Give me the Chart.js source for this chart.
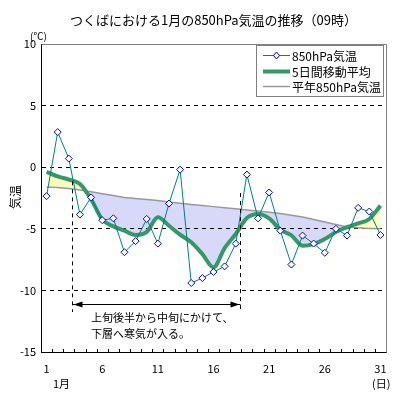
<!DOCTYPE html>
<html><head><meta charset="utf-8">
<script src="https://cdn.jsdelivr.net/npm/chart.js@4.4.0/dist/chart.umd.min.js"></script>
<style>html,body{margin:0;padding:0;background:#fff;}canvas{background:#fff;display:block}</style>
</head><body>
<canvas id="c" width="400" height="400"></canvas>
<script>
const days = ['1','2','3','4','5','6','7','8','9','10','11','12','13','14','15','16','17','18','19','20','21','22','23','24','25','26','27','28','29','30','31'];
const temp850 = [-2.35, 2.85, 0.7, -3.85, -2.45, -4.3, -4.15, -6.9, -6.0, -4.2, -6.2, -2.95, -0.2, -9.4, -9.0, -8.5, -8.05, -6.2, -0.6, -4.15, -2.05, -5.15, -7.9, -5.55, -6.2, -6.95, -5.0, -5.55, -3.3, -3.6, -5.5];
const movingAvg5 = [-0.37, -0.75, -1.0, -1.37, -2.6, -4.25, -4.8, -5.15, -5.5, -5.25, -4.07, -4.75, -5.48, -6.1, -7.05, -8.13, -6.56, -5.42, -4.13, -3.8, -4.15, -5.07, -5.53, -6.37, -6.24, -5.83, -5.26, -4.86, -4.56, -4.2, -3.12];
const normal850 = [-1.6, -1.65, -1.72, -1.85, -2.0, -2.15, -2.3, -2.45, -2.55, -2.62, -2.7, -2.82, -2.92, -3.02, -3.1, -3.2, -3.3, -3.38, -3.47, -3.55, -3.65, -3.75, -3.9, -4.05, -4.25, -4.45, -4.65, -4.85, -4.92, -4.97, -5.0];
const xTickLabels = ['1','6','11','16','21','26','31'];
const seriesNames = ['850hPa気温','5日間移動平均','平年850hPa気温'];
const titleText = 'つくばにおける1月の850hPa気温の推移（09時）';
const noteLines = ['上旬後半から中旬にかけて、','下層へ寒気が入る。'];
const noteDays = [3.3, 18.4];

const FONT = '"Noto Sans CJK JP", "Noto Sans", sans-serif';
Chart.defaults.font.family = FONT;
Chart.defaults.color = '#000';

const extras = {
  id: 'extras',
  afterDraw(chart) {
    const ctx = chart.ctx, x = chart.scales.x, y = chart.scales.y, a = chart.chartArea;
    ctx.save();
    ctx.strokeStyle = '#808080'; ctx.lineWidth = 1;
    ctx.beginPath();
    ctx.moveTo(Math.round(a.left) + 0.5, Math.round(a.top) + 0.5);
    ctx.lineTo(Math.round(a.right) + 0.5, Math.round(a.top) + 0.5);
    ctx.lineTo(Math.round(a.right) + 0.5, Math.round(a.bottom) + 0.5);
    ctx.stroke();
    ctx.strokeStyle = '#000';
    ctx.beginPath();
    for (let i = 1; i < days.length; i++) {
      const px = Math.round(x.getPixelForValue(i - 0.5)) + 0.5;
      ctx.moveTo(px, a.bottom); ctx.lineTo(px, a.bottom - 3);
    }
    ctx.stroke();
    ctx.setLineDash([4, 4]);
    ctx.beginPath();
    const tops = [-1.15, -2.1];
    noteDays.forEach((d, k) => {
      const px = Math.round(x.getPixelForValue(d - 1)) + 0.5;
      ctx.moveTo(px, y.getPixelForValue(tops[k]));
      ctx.lineTo(px, y.getPixelForValue(-11.75));
    });
    ctx.stroke();
    ctx.setLineDash([]);
    const ax1 = Math.round(x.getPixelForValue(noteDays[0] - 1)) + 0.5;
    const ax2 = Math.round(x.getPixelForValue(noteDays[1] - 1)) + 0.5;
    const ay = Math.round(y.getPixelForValue(-11.1)) + 0.5;
    ctx.beginPath(); ctx.moveTo(ax1, ay); ctx.lineTo(ax2, ay); ctx.stroke();
    ctx.fillStyle = '#000';
    ctx.beginPath(); ctx.moveTo(ax1 + 1, ay); ctx.lineTo(ax1 + 10, ay - 3); ctx.lineTo(ax1 + 10, ay + 3); ctx.closePath(); ctx.fill();
    ctx.beginPath(); ctx.moveTo(ax2 - 1, ay); ctx.lineTo(ax2 - 10, ay - 3); ctx.lineTo(ax2 - 10, ay + 3); ctx.closePath(); ctx.fill();
    ctx.font = '11px ' + FONT; ctx.textAlign = 'left'; ctx.textBaseline = 'middle';
    const tx = x.getPixelForValue(4.0);
    ctx.fillText(noteLines[0], tx, y.getPixelForValue(-12.25));
    ctx.fillText(noteLines[1], tx, y.getPixelForValue(-13.55));
    ctx.font = '13px ' + FONT; ctx.textAlign = 'center';
    ctx.fillText(titleText, (a.left + a.right) / 2, 20);
    ctx.font = '10px ' + FONT; ctx.textAlign = 'left';
    ctx.fillText('(℃)', 30, 36);
    ctx.font = '11px ' + FONT;
    ctx.fillText('1月', 53, 384);
    ctx.fillText('(日)', 372, 384);
    ctx.save(); ctx.translate(15, 197); ctx.rotate(-Math.PI / 2);
    ctx.textAlign = 'center'; ctx.font = '12px ' + FONT; ctx.fillText('気温', 0, 0); ctx.restore();
    const lx = 256.5, ly = 45.5, lw = 127, lh = 51;
    ctx.fillStyle = '#fff'; ctx.fillRect(lx, ly, lw, lh);
    ctx.strokeStyle = '#808080'; ctx.lineWidth = 1; ctx.strokeRect(lx, ly, lw, lh);
    const rows = [55, 71, 86];
    const ds = chart.data.datasets;
    ctx.font = '12px ' + FONT; ctx.textAlign = 'left'; ctx.textBaseline = 'middle';
    rows.forEach((ry, i) => {
      ctx.strokeStyle = ds[i].borderColor; ctx.lineWidth = ds[i].borderWidth;
      ctx.beginPath(); ctx.moveTo(263, ry + 0.5); ctx.lineTo(290, ry + 0.5); ctx.stroke();
      if (i === 0) {
        ctx.fillStyle = '#fff'; ctx.strokeStyle = '#0000ff'; ctx.lineWidth = 1;
        ctx.beginPath(); ctx.moveTo(276.5, ry - 3); ctx.lineTo(279.5, ry + 0.5); ctx.lineTo(276.5, ry + 4); ctx.lineTo(273.5, ry + 0.5); ctx.closePath(); ctx.fill(); ctx.stroke();
      }
      ctx.fillStyle = '#000';
      ctx.fillText(seriesNames[i], 292, ry + 1);
    });
    ctx.restore();
  }
};

new Chart(document.getElementById('c'), {
  type: 'line',
  data: {
    labels: days,
    datasets: [
      { label: seriesNames[0], data: temp850, borderColor: '#008080', borderWidth: 1, pointStyle: 'rectRot', pointRadius: 3.5, pointBorderColor: '#0000ff', pointBackgroundColor: '#ffffff', pointBorderWidth: 1, tension: 0, fill: false, order: 0 },
      { label: seriesNames[1], data: movingAvg5, borderColor: '#339966', borderWidth: 4, pointRadius: 0, cubicInterpolationMode: 'monotone', fill: { target: 2, above: '#ffffc0', below: '#d8d8f8' }, order: 1 },
      { label: seriesNames[2], data: normal850, borderColor: '#999999', borderWidth: 1.5, pointRadius: 0, fill: false, order: 2 }
    ]
  },
  options: {
    responsive: false, animation: false,
    layout: { padding: { top: 44, right: 14, bottom: 0, left: 0 } },
    plugins: { legend: { display: false }, tooltip: { enabled: false }, filler: { drawTime: 'beforeDraw' } },
    scales: {
      x: {
        type: 'category', offset: true,
        afterFit: s => { s.height = 48; },
        grid: { display: false, offset: true, drawTicks: false },
        border: { display: true, color: '#000', width: 1 },
        ticks: { autoSkip: false, maxRotation: 0, minRotation: 0, padding: 10, font: { size: 11 }, color: '#000',
          callback: (v, i) => xTickLabels.includes(days[i]) ? days[i] : '' }
      },
      y: {
        min: -15, max: 10,
        afterFit: s => { s.width = 41; },
        grid: { drawTicks: false, lineWidth: 1, color: c => ([-10, -5, 0, 5].includes(c.tick.value) ? '#000' : 'rgba(0,0,0,0)') },
        border: { display: true, color: '#000', width: 1, dash: [4, 4] },
        ticks: { stepSize: 5, padding: 5, font: { size: 11 }, color: '#000' }
      }
    }
  },
  plugins: [extras]
});
</script>
</body></html>
